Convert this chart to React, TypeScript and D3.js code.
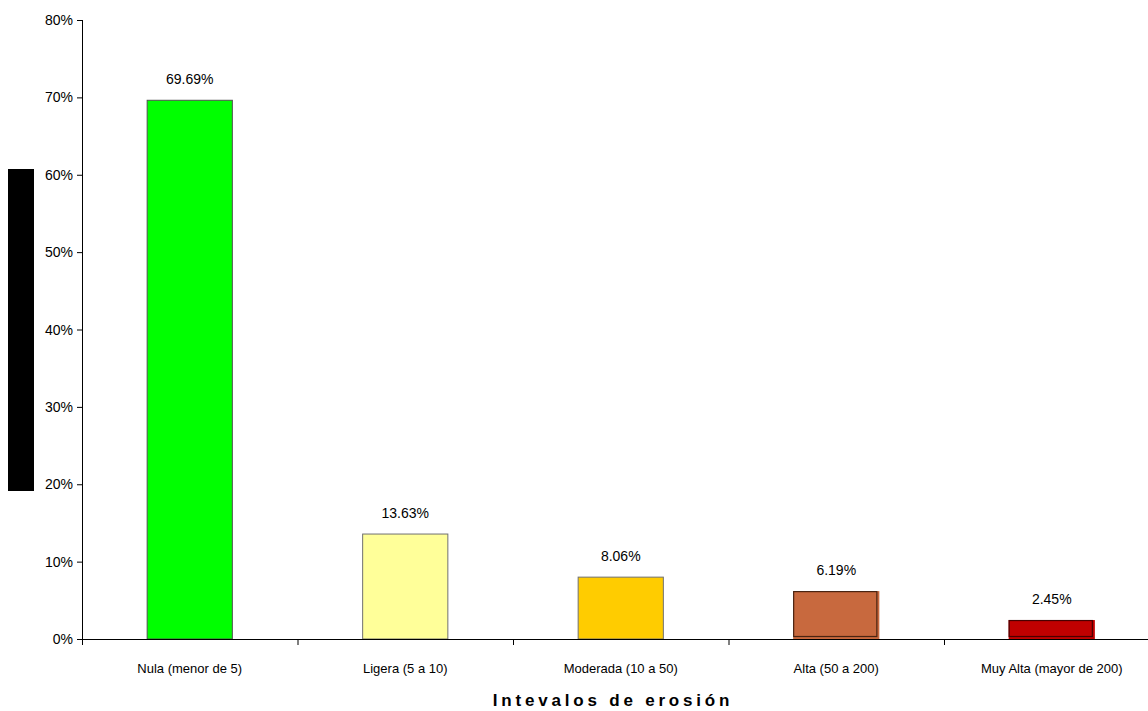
import React from "react";
import * as d3 from "d3";

const categories = [
  "Nula (menor de 5)",
  "Ligera (5 a 10)",
  "Moderada (10 a 50)",
  "Alta (50 a 200)",
  "Muy Alta (mayor de 200)",
];
const values = [0.6969, 0.1363, 0.0806, 0.0619, 0.0245];
const valueLabels = ["69.69%", "13.63%", "8.06%", "6.19%", "2.45%"];
const fills = ["#00FF00", "#FFFF99", "#FFCC00", "#C8693E", "#C00000"];
const strokes = ["#505050", "#707070", "#707070", "#4A2412", "#4A0000"];
const insetStroke = [false, false, false, true, true];
const yTicks = [0, 0.1, 0.2, 0.3, 0.4, 0.5, 0.6, 0.7, 0.8];
const xTitle = "Intevalos de erosión";

const W = 1148;
const H = 711;
const left = 82;
const step = 215.5;

export default function App() {
  const x = d3
    .scaleBand<string>()
    .domain(categories)
    .range([left, left + step * categories.length])
    .paddingInner(0.6)
    .paddingOuter(0.3);
  const y = d3.scaleLinear().domain([0, 0.8]).range([639, 20]);
  const fmt = d3.format(".0%");
  const bw = x.bandwidth();
  const y0 = y(0);
  const boundaries = d3.range(categories.length + 1).map((i) => left + i * x.step());

  return (
    <svg
      width={W}
      height={H}
      style={{ position: "absolute", left: 0, top: 0, background: "#fff" }}
      fontFamily="'Liberation Sans', Arial, sans-serif"
    >
      <rect x={8} y={169} width={26} height={322} fill="#000" />
      {categories.map((c, i) => {
        const bx = x(c)!;
        const by = y(values[i]);
        const bh = y0 - by;
        return (
          <g key={c}>
            {insetStroke[i] ? (
              <>
                <rect x={bx} y={by} width={bw} height={bh} fill={fills[i]} />
                <rect
                  x={bx + 0.5}
                  y={by + 0.5}
                  width={bw - 3}
                  height={bh - 3}
                  fill="none"
                  stroke={strokes[i]}
                  strokeWidth={1.2}
                />
              </>
            ) : (
              <rect
                x={bx + 0.5}
                y={by + 0.5}
                width={bw - 1}
                height={bh - 0.5}
                fill={fills[i]}
                stroke={strokes[i]}
                strokeWidth={1}
              />
            )}
            <text
              x={bx + bw / 2}
              y={by - 16}
              textAnchor="middle"
              fontSize={14}
              fill="#000"
            >
              {valueLabels[i]}
            </text>
            <text
              x={bx + bw / 2}
              y={673}
              textAnchor="middle"
              fontSize={13}
              fill="#000"
            >
              {c}
            </text>
          </g>
        );
      })}
      <line x1={left + 0.5} x2={left + 0.5} y1={y(0.8)} y2={y0 + 6} stroke="#000" strokeWidth={1} />
      {yTicks.map((t) => (
        <g key={t}>
          <line x1={left - 5} x2={left} y1={y(t) + 0.5} y2={y(t) + 0.5} stroke="#000" />
          <text x={left - 9} y={y(t) + 5} textAnchor="end" fontSize={14} fill="#000">
            {fmt(t)}
          </text>
        </g>
      ))}
      <line x1={left} x2={W} y1={y0 + 0.5} y2={y0 + 0.5} stroke="#000" strokeWidth={1} />
      {boundaries.map((b, i) => (
        <line key={i} x1={b + 0.5} x2={b + 0.5} y1={y0} y2={y0 + 6} stroke="#000" />
      ))}
      <text
        x={613}
        y={706}
        textAnchor="middle"
        fontSize={17}
        fontWeight="bold"
        letterSpacing={3.8}
        fill="#000"
      >
        {xTitle}
      </text>
    </svg>
  );
}
